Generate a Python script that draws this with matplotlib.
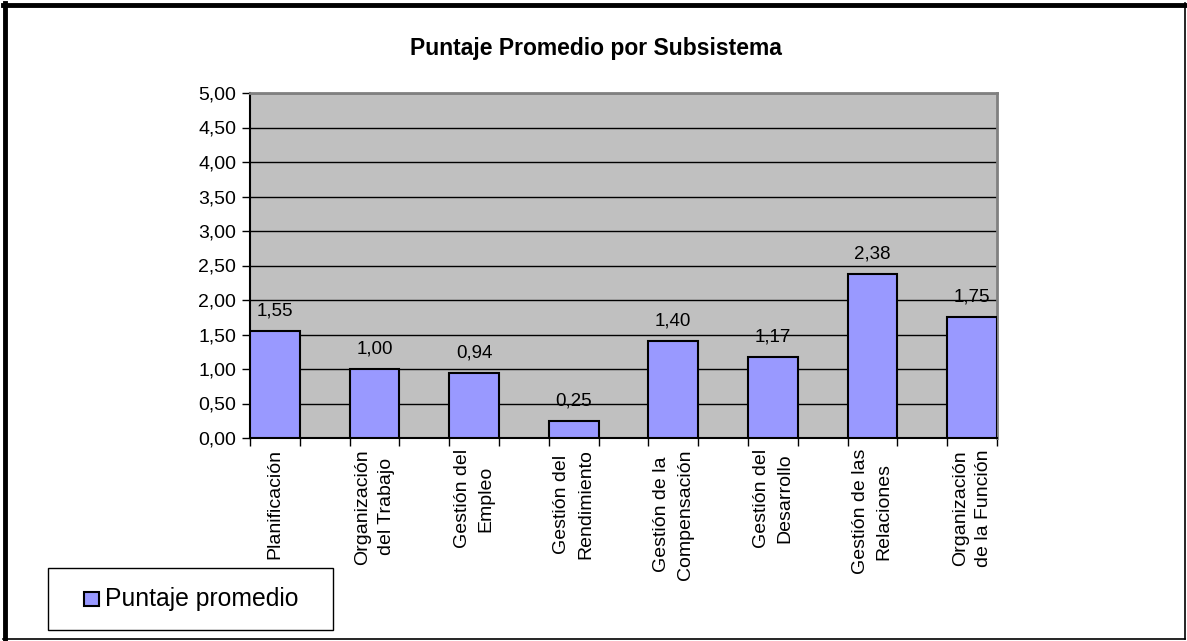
import matplotlib
matplotlib.use('Agg')
import matplotlib.pyplot as plt
from matplotlib.lines import Line2D
from matplotlib.patches import Rectangle

plt.rcParams['font.family'] = ['Liberation Sans', 'DejaVu Sans']

# datos
categorias = ['Planificación', 'Organización\ndel Trabajo', 'Gestión del\nEmpleo',
              'Gestión del\nRendimiento', 'Gestión de la\nCompensación', 'Gestión del\nDesarrollo',
              'Gestión de las\nRelaciones', 'Organización\nde la Función']
valores = [1.55, 1.00, 0.94, 0.25, 1.40, 1.17, 2.38, 1.75]
yticks = [0, 0.5, 1, 1.5, 2, 2.5, 3, 3.5, 4, 4.5, 5]
serie = 'Puntaje promedio'
color_barra = '#9999FF'

W, H = 1187, 641
def fx(p): return p / W
def fy(p): return 1 - p / H

fig = plt.figure(figsize=(W / 100, H / 100), dpi=100)
ax = fig.add_axes([fx(250), fy(438), 747 / W, 345 / H])
ax.set_facecolor('#C0C0C0')

# cada barra ocupa una de cada dos posiciones (como en el original de Excel)
xs = [2 * i for i in range(len(valores))]
ax.bar(xs, valores, width=1.0, color=color_barra, edgecolor='black', linewidth=1.5, zorder=3)

for x, v in zip(xs, valores):
    ax.text(x, v + 0.17, f'{v:.2f}'.replace('.', ','), ha='center', va='bottom', fontsize=13.5)

ax.set_xlim(-0.5, 2 * len(valores) - 1.5)
ax.set_ylim(0, 5)
ax.set_yticks(yticks)
ax.set_yticklabels([f'{t:.2f}'.replace('.', ',') for t in yticks], fontsize=14)
ax.yaxis.grid(True, color='black', linewidth=1.0, zorder=0)
ax.set_axisbelow(True)

ax.set_xticks(xs)
ax.set_xticklabels(categorias, rotation=90, fontsize=14, ha='center', va='top',
                   multialignment='center', linespacing=1.5)
ax.tick_params(axis='x', which='major', length=0, pad=8)
ax.set_xticks([x - 0.5 for x in range(2 * len(valores))], minor=True)
ax.tick_params(axis='x', which='minor', length=6, width=1)
ax.tick_params(axis='y', length=6, width=1, pad=4)

for s in ['left', 'bottom']:
    ax.spines[s].set_color('black')
    ax.spines[s].set_linewidth(1.5)
for s in ['top', 'right']:
    ax.spines[s].set_color('#808080')
    ax.spines[s].set_linewidth(2)

fig.text(fx(596), fy(49), 'Puntaje Promedio por Subsistema', ha='center', va='center',
         fontsize=16.5, fontweight='bold')

# leyenda (caja a mano, como en Excel)
fig.add_artist(Rectangle((fx(48), fy(630)), 285 / W, 62 / H, transform=fig.transFigure,
                         facecolor='white', edgecolor='black', linewidth=1))
fig.add_artist(Rectangle((fx(84), fy(606)), 15 / W, 14 / H, transform=fig.transFigure,
                         facecolor=color_barra, edgecolor='black', linewidth=1.5))
fig.text(fx(105), fy(606), serie, ha='left', va='baseline', fontsize=17.8)

# marco exterior
fig.add_artist(Line2D([fx(5), fx(5)], [fy(3), fy(639)], color='black', linewidth=3.5))
fig.add_artist(Line2D([fx(3), fx(1185)], [fy(5), fy(5)], color='black', linewidth=3.5))
fig.add_artist(Line2D([fx(1185), fx(1185)], [fy(3), fy(639)], color='black', linewidth=1.2))
fig.add_artist(Line2D([fx(3), fx(1185)], [fy(639), fy(639)], color='black', linewidth=1.2))

fig.savefig('out.png', dpi=100)
